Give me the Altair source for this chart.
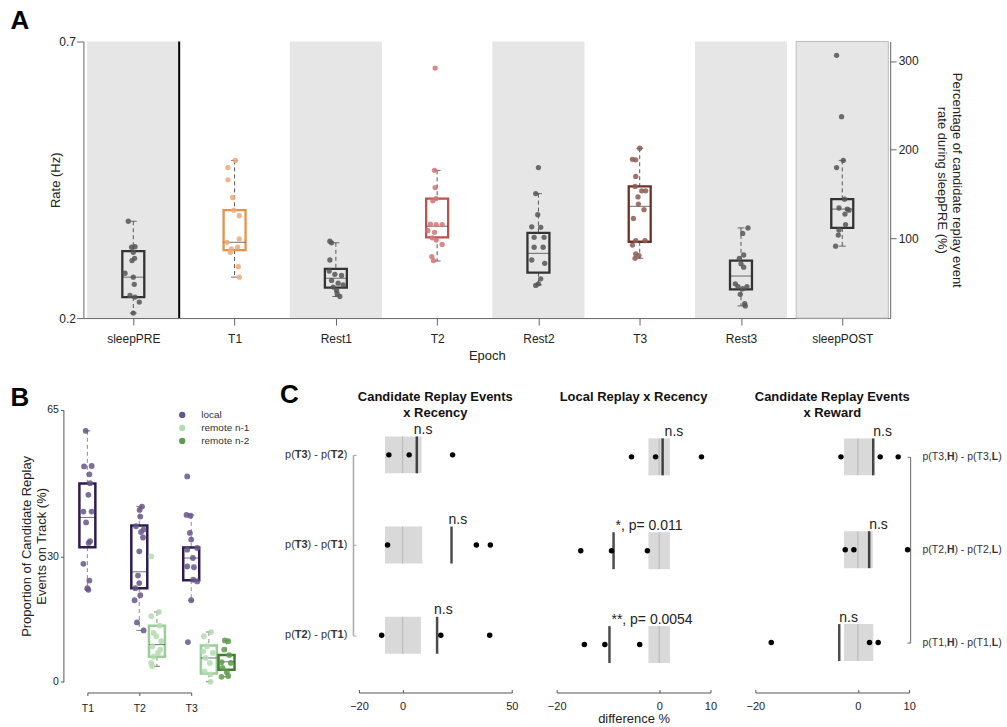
import altair as alt
import pandas as pd

FONT = "Liberation Sans"
TXT = "#222222"

# ======================= Panel A data =======================
epochs = ["sleepPRE", "T1", "Rest1", "T2", "Rest2", "T3", "Rest3", "sleepPOST"]
rest_epochs = ["sleepPRE", "Rest1", "Rest2", "Rest3", "sleepPOST"]
a_whisker_hi = [0.375, 0.485, 0.336, 0.467, 0.425, 0.507, 0.363, 0.485]
a_q3 = [0.321, 0.395, 0.289, 0.416, 0.354, 0.438, 0.304, 0.415]
a_median = [0.274, 0.337, 0.272, 0.366, 0.317, 0.402, 0.276, 0.397]
a_q1 = [0.238, 0.323, 0.255, 0.346, 0.282, 0.338, 0.252, 0.363]
a_whisker_lo = [0.209, 0.274, 0.239, 0.303, 0.260, 0.308, 0.222, 0.330]

a_rate_sleepPRE = [0.375, 0.328, 0.329, 0.319, 0.308, 0.304, 0.281, 0.274, 0.261, 0.241, 0.238, 0.229, 0.209]
a_jit_sleepPRE = [-5, -1.7, 1.7, 0, 1.3, -1.3, -8.3, 0, 1, -3.3, 1.7, 6, 0]
a_rate_T1 = [0.485, 0.472, 0.450, 0.418, 0.395, 0.385, 0.337, 0.325, 0.319, 0.328, 0.343, 0.293, 0.274]
a_jit_T1 = [0.7, -6.7, -6.7, -2, -1, 4.7, -7.7, -3.3, -4.3, 3, 4.7, 3.7, 4.7]
a_rate_Rest1 = [0.339, 0.336, 0.305, 0.285, 0.279, 0.277, 0.268, 0.263, 0.260, 0.256, 0.244, 0.239, 0.250]
a_jit_Rest1 = [-6, -4.3, -6, -6.7, -1, 5.7, -4.3, 2.3, 7.3, -2.7, 1.3, 4, 0.7]
a_rate_T2 = [0.652, 0.467, 0.436, 0.412, 0.416, 0.370, 0.369, 0.369, 0.358, 0.355, 0.345, 0.341, 0.333, 0.311, 0.304]
a_jit_T2 = [-2, -2.7, -2, -4.3, -1, -6.7, -1, 5, -9.3, -2.7, -5, -1, 5, -5.3, -3.7]
a_rate_Rest2 = [0.472, 0.425, 0.387, 0.365, 0.364, 0.346, 0.346, 0.328, 0.328, 0.305, 0.299, 0.271, 0.259, 0.262]
a_jit_Rest2 = [0, -2.7, -0.7, -6.7, 2.3, -4.3, 5.7, -4.3, 4.7, -6.7, 6.3, 2.3, -2.7, 0]
a_rate_T3 = [0.507, 0.487, 0.486, 0.456, 0.438, 0.430, 0.430, 0.419, 0.406, 0.396, 0.380, 0.340, 0.340, 0.332, 0.316, 0.313, 0.308]
a_jit_T3 = [0, -7.3, -4, -4, -4.7, 2, 6, -1.7, -1.3, 4.3, -6.3, -4, 5.3, -7.3, -4, -0.7, -4.7]
a_rate_Rest3 = [0.363, 0.353, 0.314, 0.308, 0.298, 0.292, 0.262, 0.257, 0.257, 0.243, 0.226, 0.222, 0.253]
a_jit_Rest3 = [7, 1.7, 2.7, -1.7, 0, 2.7, -5.7, -3, 6, -0.7, 3.7, 4.3, 1.7]
a_rate_sleepPOST = [0.675, 0.564, 0.485, 0.472, 0.415, 0.399, 0.397, 0.388, 0.395, 0.369, 0.359, 0.350, 0.330]
a_jit_sleepPOST = [-5.7, -0.7, 1, -5.7, 2.3, -3.3, 5, 2.7, 6.7, 3.3, -3.3, -4, -6.7]

a_pct_ticks = [100, 200, 300]
a_pct_domain = [10, 322]
a_rate_ticks = [0.2, 0.7]

a_box_colors = ["#333333", "#E8914A", "#333333", "#C0504D", "#333333", "#6B3328", "#333333", "#333333"]
a_pt_colors = ["#555555", "#F0A874", "#555555", "#D27474", "#555555", "#8E5A50", "#555555", "#555555"]

# ======================= Panel B data =======================
b_groups = ["local", "remote n-1", "remote n-2"]
b_box_track = [1, 2, 3, 2, 3, 3]
b_box_group = ["local", "local", "local", "remote n-1", "remote n-1", "remote n-2"]
b_whisker_hi = [60.0, 41.9, 39.9, 16.7, 11.9, 9.9]
b_q3 = [47.4, 37.4, 32.1, 13.4, 8.7, 6.4]
b_median = [39.3, 26.3, 29.6, 8.9, 5.7, 4.8]
b_q1 = [32.2, 22.4, 24.3, 6.0, 2.0, 2.9]
b_whisker_lo = [22.0, 12.3, 19.5, 3.7, 0.0, 1.2]

b_T1_local = [60.0, 51.5, 51.6, 49.6, 47.5, 44.7, 40.7, 40.7, 38.1, 33.6, 33.2, 28.2, 24.2, 22.4, 22.0]
b_T1_local_jit = [-1.7, -3.3, 4.3, 2, 2.7, 1, -4, 4.3, -1.3, 2.7, 1.3, -4, 2, 0, 1]
b_T2_local = [41.9, 41.1, 39.5, 37.2, 36.4, 34.5, 35.8, 31.2, 25.4, 23.6, 22.4, 20.7, 19.5, 14.2, 12.3]
b_T2_local_jit = [2.7, 0.3, 1, -3.3, 4.3, 3.7, 1.7, 0, -1.3, 0, -4, 1, -4.7, -2.3, 4.3]
b_T3_local = [49.1, 39.9, 39.7, 35.6, 34.0, 32.0, 31.6, 29.6, 27.6, 27.4, 24.4, 24.0, 19.5, 9.5]
b_T3_local_jit = [-4, -4.7, -0.7, -1.3, 0, 6, -4, 1.7, -4, 2.7, 2, 6, 0, -3.3]
b_T2_n1 = [30.0, 16.7, 15.7, 13.4, 11.7, 10.9, 9.7, 8.5, 6.9, 6.0, 4.5, 3.7, 7.7]
b_T2_n1_jit = [-5.7, 2, -5.7, 2.7, -3.3, -0.7, 4.3, -4.7, 1, -3.3, -5.7, -4.7, 3.3]
b_T3_n1 = [11.9, 10.9, 8.5, 7.3, 6.9, 5.7, 4.5, 2.5, 1.8, 0.0]
b_T3_n1_jit = [2.3, -5, -1.7, -5.7, 4, -3.3, 1, -4.3, 1.7, 1.7]
b_T3_n2 = [9.9, 9.7, 7.7, 6.4, 4.7, 4.5, 3.3, 2.3, 1.2, 1.4]
b_T3_n2_jit = [-1.7, 1.7, -2.3, 2.7, -5, 4.3, -4, 0.3, -5, 1.7]

b_box_colors = ["#2E1C4E", "#9ACD98", "#3F7F2F"]
b_pt_colors = ["#66558A", "#B3DCB0", "#5E9B4C"]

# ======================= Panel C data =======================
rows = [1, 2, 3]
c1_first = ["T3", "T3", "T2"]
c1_second = ["T2", "T1", "T1"]
c1_null_lo = [-8.1, -8.1, -8.1]
c1_null_hi = [8.7, 9.0, 8.4]
c1_mean = [6.5, 22.4, 15.8]
c1_points = [[-6.3, 3.0, 22.9], [-6.9, 33.8, 40.2], [-9.6, 17.5, 39.9]]
c1_sig = ["n.s", "n.s", "n.s"]

c2_null_lo = [-2.1, -2.1, -2.1]
c2_null_hi = [2.1, 2.1, 2.1]
c2_mean = [0.67, -8.9, -9.7]
c2_points = [[-5.4, -0.7, 8.25], [-15.3, -9.3, -2.3], [-14.6, -10.6, -3.8]]
c2_sig = ["n.s", "*, p= 0.011", "**, p= 0.0054"]

c3_track = ["T3", "T2", "T1"]
c3_null_lo = [-2.7, -2.7, -2.7]
c3_null_hi = [3.0, 2.9, 3.0]
c3_mean = [3.0, 2.2, -3.64]
c3_points = [[-3.3, 4.35, 7.86], [-2.47, -0.78, 9.7], [-16.9, 2.27, 3.96]]
c3_sig = ["n.s", "n.s", "n.s"]

# ======================= helpers =======================
W_REG = {"p": 556, "(": 333, ")": 333, "T": 611, "1": 556, "2": 556, "3": 556,
         " ": 278, "-": 333, ",": 278, "H": 722, "L": 556}
W_BOLD = {"T": 611, "1": 556, "2": 556, "3": 556, "H": 722, "L": 611}


def text_width(s, size, bold=False):
    tab = W_BOLD if bold else W_REG
    return sum(tab[c] for c in s) * size / 1000.0


def letter(ch, dx, dy):
    return alt.Chart(pd.DataFrame({"t": [ch]})).mark_text(
        align="left", baseline="alphabetic", font=FONT, fontSize=26, fontWeight="bold", color="black"
    ).encode(x=alt.value(dx), y=alt.value(dy), text="t:N")


# ======================= Panel A chart =======================
PX_A = 101.43
BAND_HALF = 0.455
xA_scale = alt.Scale(domain=[-0.493, 7.473], nice=False, zero=False, padding=0)
yA_scale = alt.Scale(domain=[0.2, 0.7], nice=False, zero=False, padding=0)
label_expr = "[" + ",".join("'%s'" % e for e in epochs) + "][datum.value]"
xA_axis = alt.Axis(values=list(range(8)), labelExpr=label_expr, title="Epoch", tickSize=7,
                   labelPadding=8, titlePadding=5, labelFontSize=12, titleFontSize=13,
                   domainColor="#666666", tickColor="#666666")
yA_axis = alt.Axis(values=a_rate_ticks, format=".1f", title="Rate (Hz)", tickSize=7,
                   labelPadding=1, titlePadding={"expr": "-3.5"}, labelFontSize=12, titleFontSize=13,
                   domainColor="#666666", tickColor="#666666")


def XA(f):
    return alt.X(f, type="quantitative", scale=xA_scale, axis=xA_axis)


def YA(f):
    return alt.Y(f, type="quantitative", scale=yA_scale, axis=yA_axis)


band_idx = [epochs.index(e) for e in rest_epochs]
bands = pd.DataFrame({"lo": [i - BAND_HALF for i in band_idx], "hi": [i + BAND_HALF for i in band_idx],
                      "y0": 0.2, "y1": 0.7, "epoch": rest_epochs})
a_bands = alt.Chart(bands).mark_rect(color="#E6E6E6").encode(x=XA("lo"), x2="hi:Q", y=YA("y0"), y2="y1:Q")
a_post = alt.Chart(bands[bands.epoch == "sleepPOST"]).mark_rect(
    fillOpacity=0, stroke="#BDBDBD", strokeWidth=1).encode(x=XA("lo"), x2="hi:Q", y=YA("y0"), y2="y1:Q")
a_sep = alt.Chart(pd.DataFrame({"x": [0.453], "y0": [0.2], "y1": [0.7]})).mark_rule(
    color="black", strokeWidth=2).encode(x=XA("x"), y=YA("y0"), y2="y1:Q")

boxA = pd.DataFrame({"epoch": epochs, "pos": list(range(8)), "whi": a_whisker_hi, "q3": a_q3,
                     "med": a_median, "q1": a_q1, "wlo": a_whisker_lo,
                     "bc": a_box_colors, "pc": a_pt_colors})
a_wu = alt.Chart(boxA).mark_rule(strokeDash=[4, 3], color="#555555", strokeWidth=1).encode(
    x=XA("pos"), y=YA("whi"), y2="q3:Q")
a_wl = alt.Chart(boxA).mark_rule(strokeDash=[4, 3], color="#555555", strokeWidth=1).encode(
    x=XA("pos"), y=YA("q1"), y2="wlo:Q")
capsA = pd.DataFrame({"pos": list(range(8)) * 2, "v": a_whisker_hi + a_whisker_lo})
a_caps = alt.Chart(capsA).mark_tick(orient="horizontal", size=7, thickness=1, color="#333333").encode(
    x=XA("pos"), y=YA("v"))
a_boxes = alt.Chart(boxA).mark_bar(orient="vertical", size=22, fillOpacity=0, strokeWidth=2.3).encode(
    x=XA("pos"), y=YA("q3"), y2="q1:Q", stroke=alt.Stroke("bc:N", scale=None))
a_meds = alt.Chart(boxA).mark_tick(orient="horizontal", size=22, thickness=1, color="#333333").encode(
    x=XA("pos"), y=YA("med"))

a_rates = {"sleepPRE": (a_rate_sleepPRE, a_jit_sleepPRE), "T1": (a_rate_T1, a_jit_T1),
           "Rest1": (a_rate_Rest1, a_jit_Rest1), "T2": (a_rate_T2, a_jit_T2),
           "Rest2": (a_rate_Rest2, a_jit_Rest2), "T3": (a_rate_T3, a_jit_T3),
           "Rest3": (a_rate_Rest3, a_jit_Rest3), "sleepPOST": (a_rate_sleepPOST, a_jit_sleepPOST)}
recs = []
for i, e in enumerate(epochs):
    vals, jits = a_rates[e]
    for v, j in zip(vals, jits):
        recs.append({"epoch": e, "xj": i + j / PX_A, "val": v, "pc": a_pt_colors[i]})
ptsA = pd.DataFrame(recs)
a_pts = alt.Chart(ptsA).mark_circle(size=28, opacity=0.85).encode(
    x=XA("xj"), y=YA("val"), color=alt.Color("pc:N", scale=None))

a_right = alt.Chart(pd.DataFrame({"v": [a_pct_ticks[0]]})).mark_point(opacity=0).encode(
    y=alt.Y("v:Q", scale=alt.Scale(domain=a_pct_domain, nice=False, zero=False, padding=0),
            axis=alt.Axis(orient="right", values=a_pct_ticks, tickSize=6, labelPadding=2,
                          labelFontSize=12, titleFontSize=13, titlePadding=16, titleLineHeight=15,
                          domainColor="#666666", tickColor="#666666",
                          title=["Percentage of candidate replay event", "rate during sleepPRE (%)"])))

chartA = alt.layer(
    alt.layer(a_bands, a_post, a_sep, a_wu, a_wl, a_caps, a_boxes, a_meds, a_pts, letter("A", -73, -13)),
    a_right
).resolve_scale(y="independent").properties(width=808, height=277)

# ======================= Panel B chart =======================
PX_B = 52.0
DODGE = {"local": 0.0, "remote n-1": 0.34, "remote n-2": 0.68}
xB_scale = alt.Scale(domain=[1, 3], range=[4, 108], nice=False, zero=False, padding=0)
yB_scale = alt.Scale(domain=[0, 65], range=[260.3, -12], nice=False, zero=False, padding=0)
xB_axis = alt.Axis(values=[1, 2, 3], labelExpr="'T' + datum.value", title=None, tickSize=3,
                   labelPadding=8, labelFontSize=10.5)
yB_axis = alt.Axis(values=[0, 30, 65], offset=20, tickSize=3, labelPadding=2, labelFontSize=10.5,
                   title=["Proportion of Candidate Replay", "Events on Track (%)"], titleFontSize=13,
                   titlePadding={"expr": "-1.5"}, titleLineHeight=15)


def XB(f):
    return alt.X(f, type="quantitative", scale=xB_scale, axis=xB_axis)


def YB(f):
    return alt.Y(f, type="quantitative", scale=yB_scale, axis=yB_axis)


boxB = pd.DataFrame({"group": b_box_group,
                     "pos": [t + DODGE[g] for t, g in zip(b_box_track, b_box_group)],
                     "whi": b_whisker_hi, "q3": b_q3, "med": b_median, "q1": b_q1, "wlo": b_whisker_lo,
                     "bc": [b_box_colors[b_groups.index(g)] for g in b_box_group]})
b_wu = alt.Chart(boxB).mark_rule(strokeDash=[4, 3], color="#8C8C8C", strokeWidth=1).encode(
    x=XB("pos"), y=YB("whi"), y2="q3:Q")
b_wl = alt.Chart(boxB).mark_rule(strokeDash=[4, 3], color="#8C8C8C", strokeWidth=1).encode(
    x=XB("pos"), y=YB("q1"), y2="wlo:Q")
capsB = pd.DataFrame({"pos": list(boxB.pos) * 2, "v": b_whisker_hi + b_whisker_lo})
b_caps = alt.Chart(capsB).mark_tick(orient="horizontal", size=6, thickness=1, color="#444444").encode(
    x=XB("pos"), y=YB("v"))
b_boxes = alt.Chart(boxB).mark_bar(orient="vertical", size=16, fillOpacity=0, strokeWidth=2.5).encode(
    x=XB("pos"), y=YB("q3"), y2="q1:Q", stroke=alt.Stroke("bc:N", scale=None))
b_meds = alt.Chart(boxB).mark_tick(orient="horizontal", size=16, thickness=1, color="#333333").encode(
    x=XB("pos"), y=YB("med"))

b_sets = [(1, "local", b_T1_local, b_T1_local_jit), (2, "local", b_T2_local, b_T2_local_jit),
          (3, "local", b_T3_local, b_T3_local_jit), (2, "remote n-1", b_T2_n1, b_T2_n1_jit),
          (3, "remote n-1", b_T3_n1, b_T3_n1_jit), (3, "remote n-2", b_T3_n2, b_T3_n2_jit)]
recs = []
for t, g, vals, jits in b_sets:
    for v, j in zip(vals, jits):
        recs.append({"group": g, "xj": t + DODGE[g] + j / PX_B, "val": v})
ptsB = pd.DataFrame(recs)
b_pts = alt.Chart(ptsB).mark_circle(size=34, opacity=0.85).encode(
    x=XB("xj"), y=YB("val"),
    color=alt.Color("group:N", scale=alt.Scale(domain=b_groups, range=b_pt_colors),
                    legend=alt.Legend(orient="none", legendX=94, legendY=-12, title=None,
                                      symbolType="circle", symbolSize=40, symbolOpacity=1,
                                      symbolStrokeWidth=0, labelFontSize=10, labelOffset=14,
                                      rowPadding=3, padding=0, labelColor="#333333")))

chartB = alt.layer(b_wu, b_wl, b_caps, b_boxes, b_meds, b_pts,
                   letter("B", -73, -16), letter("C", 197, -19)).properties(width=231, height=271)


# ======================= Panel C charts =======================
def c_panel(null_lo, null_hi, means, points, sig, xdom, xvals, width, yrange, yaxis,
            title, title_offset, xtitle, sig_dx, extra_layers_fn):
    xscale = alt.Scale(domain=xdom, nice=False, zero=False, padding=0)
    ax_kw = dict(values=xvals, tickSize={"expr": "-3"}, labelPadding=11, labelFontSize=11,
                 domainColor="#555555", tickColor="#555555")
    if xtitle:
        ax_kw.update(title=xtitle, titleFontSize=13, titlePadding=1)
    else:
        ax_kw.update(title=None)
    xaxis = alt.Axis(**ax_kw)
    yscale = alt.Scale(domain=[1, 3], range=yrange, nice=False, zero=False, padding=0)

    def XC(f):
        return alt.X(f, type="quantitative", scale=xscale, axis=xaxis)

    yenc = alt.Y("row:Q", scale=yscale, axis=yaxis)
    df = pd.DataFrame({"row": rows, "lo": null_lo, "hi": null_hi, "zero": [0, 0, 0],
                       "mean": means, "sig": sig})
    pdf = pd.DataFrame([{"row": r, "v": v} for r, vs in zip(rows, points) for v in vs])
    layers = [
        alt.Chart(df).mark_bar(orient="horizontal", size=37, color="#D9D9D9").encode(
            x=XC("lo"), x2="hi:Q", y=yenc),
        alt.Chart(df).mark_tick(orient="vertical", size=37, thickness=1, color="#A6A6A6").encode(
            x=XC("zero"), y=yenc),
        alt.Chart(df).mark_tick(orient="vertical", size=37, thickness=2.5, color="black").encode(
            x=XC("mean"), y=yenc),
        alt.Chart(pdf).mark_circle(size=30, color="black", opacity=1).encode(x=XC("v"), y=yenc),
        alt.Chart(df).mark_text(align="left", baseline="alphabetic", dy=-21, dx=sig_dx, font=FONT,
                                fontSize=14, color="#222222").encode(x=XC("mean"), y=yenc, text="sig:N"),
    ]
    layers += extra_layers_fn(yenc)
    return alt.layer(*layers).properties(
        width=width, height=271,
        title=alt.TitleParams(text=title, fontSize=13, fontWeight="bold", anchor="middle", frame="group",
                              offset=title_offset, color="#111111", font=FONT, lineHeight=16))


def label_layers(seg_texts, seg_bold, x_start, size, yenc):
    out = []
    x = x_start
    for texts, bold in zip(seg_texts, seg_bold):
        d = pd.DataFrame({"row": rows, "t": texts})
        out.append(alt.Chart(d).mark_text(
            align="left", baseline="middle", font=FONT, fontSize=size,
            fontWeight="bold" if bold else "normal", color="#333333").encode(
            x=alt.value(x), y=yenc, text="t:N"))
        x += text_width(texts[0], size, bold)
    return out


c1_segs = [["p("] * 3, c1_first, [") - p("] * 3, c1_second, [")"] * 3]
c3_segs = [["p(%s," % t for t in c3_track], ["H"] * 3, [") - p(%s," % t for t in c3_track], ["L"] * 3, [")"] * 3]
seg_bold = [False, True, False, True, False]
c1_label_w = sum(text_width(s[0], 11, b) for s, b in zip(c1_segs, seg_bold))

c1_yaxis = alt.Axis(orient="left", offset=6, values=rows, labels=False, title=None,
                    tickSize={"expr": "-3"}, domainColor="#A8A8A8", tickColor="#A8A8A8", domainWidth=1.5)
c3_yaxis = alt.Axis(orient="right", offset=1, values=rows, labels=False, title=None,
                    tickSize={"expr": "-3"}, domainColor="#666666", tickColor="#666666", domainWidth=1)

chartC1 = c_panel(c1_null_lo, c1_null_hi, c1_mean, c1_points, c1_sig, [-20, 50], [-20, 0, 50], 153,
                  [33, 213.7], c1_yaxis, ["Candidate Replay Events", "x Recency"], 2, None, -3,
                  lambda yenc: label_layers(c1_segs, seg_bold, -11.7 - c1_label_w, 11, yenc))
chartC2 = c_panel(c2_null_lo, c2_null_hi, c2_mean, c2_points, c2_sig, [-20, 10], [-20, 0, 10], 154,
                  [35, 223], None, "Local Replay x Recency", 18, "difference %", 2,
                  lambda yenc: [])
chartC3 = c_panel(c3_null_lo, c3_null_hi, c3_mean, c3_points, c3_sig, [-20, 10], [-20, 0, 10], 154,
                  [35, 221], c3_yaxis, ["Candidate Replay Events", "x Reward"], 2, None, 0,
                  lambda yenc: label_layers(c3_segs, seg_bold, 167.3, 10.5, yenc))

row2 = alt.hconcat(chartB, chartC1, chartC2, chartC3, spacing=45, bounds="flush").resolve_scale(
    color="independent").resolve_legend(color="independent")
chart = alt.vconcat(chartA, row2, spacing=104, bounds="flush").properties(
    padding={"left": 10.5, "top": 7, "right": 5, "bottom": 5}
).configure_view(strokeWidth=0).configure_axis(
    grid=False, labelFont=FONT, titleFont=FONT, labelColor=TXT, titleColor=TXT, labelFlush=False,
    titleFontWeight="normal", domainColor="#555555", tickColor="#555555"
).configure_legend(labelFont=FONT).configure_title(font=FONT)

chart.save("out.html", embed_options={"renderer": "svg", "actions": False})
